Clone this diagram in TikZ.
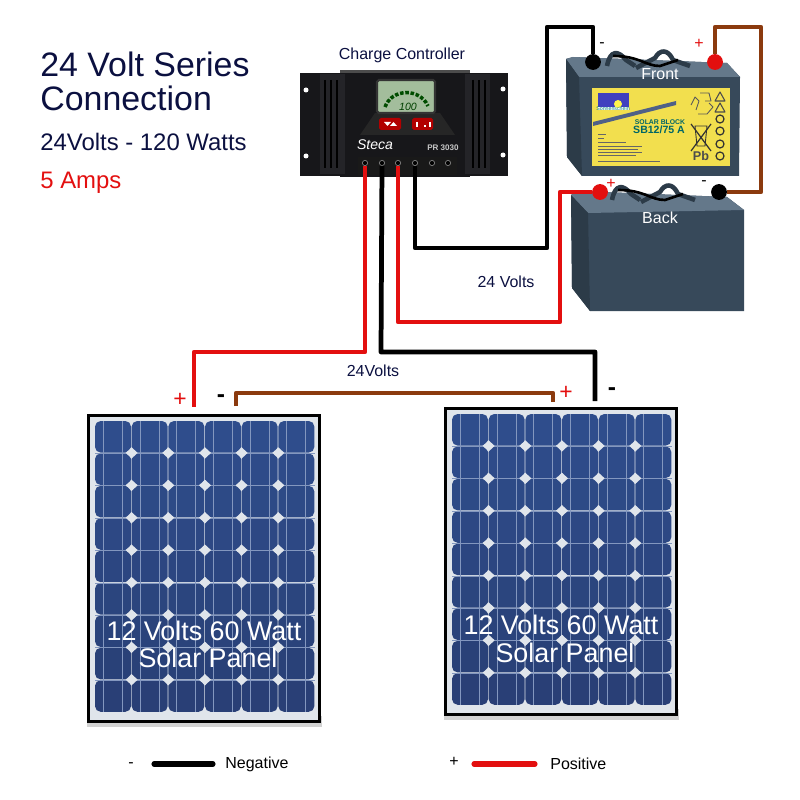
\documentclass[tikz,border=0pt]{standalone}
\usepackage{fontspec}
\setmainfont{Liberation Sans}
\definecolor{navy}{HTML}{0B1040}
\definecolor{wirered}{HTML}{E30F0F}
\definecolor{wirebrown}{HTML}{8B3A0E}
\definecolor{cellblue}{HTML}{2F4D8C}
\definecolor{celldark}{HTML}{273C70}
\definecolor{celllight}{HTML}{8397BF}
\definecolor{panelback}{HTML}{E0E5EB}
\definecolor{battop}{HTML}{64788A}
\definecolor{batface}{HTML}{37495A}
\definecolor{batside}{HTML}{2C3B48}
\definecolor{ctrlbody}{HTML}{17171A}
\definecolor{ctrlside}{HTML}{242428}
\definecolor{lcdgreen}{HTML}{A3BD9C}
\definecolor{labelyellow}{HTML}{F2DF4E}
\tikzset{
  small/.style={font=\fontsize{9.1}{11}\selectfont, inner sep=0pt},
  wire/.style={line width=2.7pt, line join=round},
  dot/.style={shape=circle, draw=none, minimum size=9pt, inner sep=0pt},
  post/.style={shape=circle, draw=gray, fill=black, minimum size=3pt, inner sep=0pt, line width=0.4pt},
  paneltext/.style={text=white, inner sep=0pt, font=\fontsize{15.3}{18}\selectfont},
  panelplus/.style={text=wirered, inner sep=0pt, font=\fontsize{13}{15}\selectfont},
  panelminus/.style={text=black, inner sep=0pt, font=\bfseries\fontsize{14}{16}\selectfont},
  titlebig/.style={anchor=west, inner sep=0pt, text=navy, font=\fontsize{19.3}{23}\selectfont},
  titlesmall/.style={anchor=west, inner sep=0pt, font=\fontsize{13.6}{16}\selectfont},
  legendline/.style={line width=2.9pt, line cap=round},
}
\begin{document}
\begin{tikzpicture}[x=0.02cm,y=-0.02cm]
    \useasboundingbox (0,0) rectangle (800,800);

    % solar panels
    \foreach \dx/\dy/\pname in {0/0/panelA, 357/-7/panelB} {
        \begin{scope}[shift={(\dx,\dy)}]
            \fill[gray!35] (87,716) rectangle (322,727);
            \node[draw=black, fill=panelback, line width=1.4pt, minimum width=4.62cm, minimum height=6.12cm, inner sep=0pt] (\pname) at (204,568.5) {};
            \foreach \c in {0,...,5} {
                \foreach \r in {0,...,8} {
                    \pgfmathtruncatemacro\mix{100-10*\r}
                    \fill[cellblue!\mix!celldark, rounded corners=3.2pt] ({95+36.67*\c},{421+32.4*\r}) rectangle ++(36,31.6);
                }
                \draw[celllight, line width=0.45pt] ({103.5+36.67*\c},421) -- ++(0,291);
                \draw[celllight, line width=0.45pt] ({122.5+36.67*\c},421) -- ++(0,291);
            }
            \foreach \r in {1,...,8}
                \draw[celllight, line width=0.45pt] (95,{421+32.4*\r}) -- (315,{421+32.4*\r});
            \foreach \c in {1,...,5}
                \foreach \r in {1,...,8}
                    \fill[panelback] ({95+36.67*\c-6},{421+32.4*\r-0.5}) -- ++(6,-5.5) -- ++(6,5.5) -- ++(-6,5.5) -- cycle;
        \end{scope}
    }
    \node[paneltext] (textA1) at (204,631) {12 Volts 60 Watt};
    \node[paneltext] (textA2) at (208,658) {Solar Panel};
    \node[paneltext] (textB1) at (561,625) {12 Volts 60 Watt};
    \node[paneltext] (textB2) at (565,653) {Solar Panel};

    % front battery
    \fill[batface] (566,59) -- (573,57) -- (727,63) -- (740,77) -- (739,176) -- (582,176) -- (567,157) -- cycle;
    \fill[battop] (566,59) -- (573,57) -- (727,63) -- (740,77) -- (579,77) -- cycle;
    \fill[batside] (566,59) -- (579,77) -- (582,176) -- (567,157) -- cycle;
    \fill[labelyellow] (592,88) rectangle (730,166);
    \fill[blue!50!gray] (598,93) rectangle (629,107);
    \fill[white] (598,107) rectangle (629,110);
    \fill[yellow!70!white] (618,104) circle (4);
    \fill[cellblue!60!gray] (593,122) -- (676,101) -- (676,105) -- (593,126) -- cycle;
    \node[text=teal, inner sep=0pt, font=\fontsize{3}{4}\selectfont] (logo) at (613,109) {Sonnenschein};
    \node[text=teal!80!black, inner sep=0pt, font=\bfseries\fontsize{3.9}{5}\selectfont] (solarblock) at (660,122) {SOLAR BLOCK};
    \node[text=teal!80!black, inner sep=0pt, font=\bfseries\fontsize{6}{7}\selectfont] (sbname) at (659,130) {SB12/75 A};
    \node[text=black!70, inner sep=0pt, font=\bfseries\fontsize{7.2}{8}\selectfont] (pb) at (701,156) {Pb};
    \foreach \ty/\tw in {134/8,138/6,142/28,146/44,149/40,152/44,155/38,161/62}
        \draw[black!60, line width=0.35pt] (598,\ty) -- ++(\tw,0);
    % recycling mark, crossed bin, warning icons
    \draw[black!65, line width=0.5pt, line join=round] (700,93) -- (709,93) -- (711,101) -- (705,101) (691,105) -- (695,97) -- (699,101) -- (696,110) (698,114) -- (707,114) -- (713,107) -- (709,103);
    \draw[black!80, line width=0.7pt] (691,124) -- (711,151) (711,124) -- (691,151);
    \draw[black!80, line width=0.5pt] (695,126) -- (707,126) -- (705,146) -- (697,146) -- cycle;
    \foreach \ty in {97,108}
        \draw[black!70, line width=0.6pt, line join=round] (720,{\ty-5}) -- (725,{\ty+4}) -- (715,{\ty+4}) -- cycle;
    \foreach \ty in {119,131,144,156}
        \draw[black!80, line width=0.7pt] (720,\ty) circle (4);

    % back battery
    \fill[batface] (571,195) -- (578,191) -- (727,197) -- (744,210) -- (744,311) -- (590,311) -- (572,288) -- cycle;
    \fill[battop] (571,195) -- (578,191) -- (727,197) -- (744,210) -- (588,213) -- cycle;
    \fill[batside] (571,195) -- (588,213) -- (590,311) -- (572,288) -- cycle;

    % handles on both batteries
    \foreach \hx/\hy in {0/0, 5/134} {
        \begin{scope}[shift={(\hx,\hy)}]
            \draw[batside, line width=2.6pt, line join=round] (607,66) .. controls (610,50) and (618,50) .. (626,60) -- (635,66);
            \draw[batside, line width=2.6pt, line join=round] (636,68) -- (655,58) .. controls (660,49) and (668,49) .. (673,60) -- (690,66);
            \draw[black, line width=1.5pt] (613,56) .. controls (640,56) and (645,66) .. (660,66) -- (678,60);
        \end{scope}
    }

    % charge controller
    \fill[ctrlbody] (300,73) rectangle (508,176);
    \fill[gray!60!black] (340,70.5) rectangle (470,73);
    \fill[ctrlbody] (340,73) rectangle (470,177);
    \fill[ctrlside] (320,74) rectangle (345,174);
    \fill[ctrlside] (465,74) rectangle (490,174);
    \foreach \bx in {325,331,337,473,479,485}
        \draw[black, line width=1.2pt] (\bx,80) -- (\bx,168);
    \foreach \sx/\sy in {306/90,503/89,306/156,503/155}
        \fill[white] (\sx,\sy) circle (2.5);
    \fill[black!70!gray] (375,113) -- (440,113) -- (455,135) -- (360,135) -- cycle;
    \fill[lcdgreen, draw=black!60!gray, line width=1.2pt, rounded corners=1pt] (377,80) rectangle (435,113);
    \draw[green!30!black, line width=2pt, dash pattern=on 2pt off 1pt] (385,107) .. controls (392,88) and (420,88) .. (428,106);
    \node[text=green!25!black, inner sep=0pt, font=\itshape\fontsize{6}{7}\selectfont] (lcdtext) at (408,107) {100};
    \fill[red!70!black, rounded corners=1pt] (379,118) rectangle (401,130);
    \fill[red!70!black, rounded corners=1pt] (412,118) rectangle (433,130);
    \fill[white] (384,122) -- (391,122) -- (387.5,126) -- cycle (390,126) -- (397,126) -- (393.5,122) -- cycle;
    \draw[white, line width=1pt] (417,122) -- (417,127) (424,126) -- (426,126) (430,122) -- (430,127);
    \node[text=white, inner sep=0pt, font=\itshape\fontsize{8}{10}\selectfont] (steca) at (375,145) {Steca};
    \node[text=gray!45, inner sep=0pt, font=\bfseries\fontsize{4.6}{6}\selectfont] (model) at (443,148) {PR 3030};
    \fill[black!80!gray] (358,157) rectangle (457,175);
    \foreach \i/\tx in {1/365,2/382,3/398,4/415,5/432,6/448}
        \node[post] (post\i) at (\tx,163) {};
    \node[small, text=navy] (ctrlname) at (402,55) {Charge Controller};

    % battery terminals
    \node[dot, fill=black] (frontneg) at (593,62) {};
    \node[dot, fill=wirered] (frontpos) at (715,62) {};
    \node[dot, fill=wirered] (backpos) at (600,192) {};
    \node[dot, fill=black] (backneg) at (719,192) {};

    % corners of the wires
    \coordinate (neg1) at (547,248);
    \coordinate (neg2) at (547,27);
    \coordinate (neg3) at (593,27);
    \coordinate (link1) at (715,27);
    \coordinate (link2) at (761,27);
    \coordinate (link3) at (761,192);
    \coordinate (pos1) at (560,322);
    \coordinate (pos2) at (560,192);
    \coordinate (panelpos1) at (365,352);
    \coordinate (panelpos2) at (194,352);
    \coordinate (panelpos3) at (194,407);
    \coordinate (panelneg1) at (381,352);
    \coordinate (panelneg2) at (595,352);
    \coordinate (panelneg3) at (595,401);
    \coordinate (series1) at (236,406);
    \coordinate (series2) at (236,393);
    \coordinate (series3) at (553,393);
    \coordinate (series4) at (553,402);

    % wires
    \draw[wire, black] (post4) |- (neg1) -- (neg2) -- (neg3) -- (frontneg);
    \draw[wire, wirebrown] (frontpos) -- (link1) -- (link2) -- (link3) -- (backneg);
    \draw[wire, wirered] (post3) |- (pos1) -- (pos2) -- (backpos);
    \draw[wire, wirered] (post1) -- (panelpos1) -- (panelpos2) -- (panelpos3);
    \draw[wire, black] (post2) -- (panelneg1) -- (panelneg2) -- (panelneg3);
    \draw[wire, wirebrown] (series1) -- (series2) -- (series3) -- (series4);

    % battery labels
    \node[small, text=white] (frontname) at (660,74) {Front};
    \node[small, text=white] (backname) at (660,218) {Back};
    \node[small, text=black] (frontminus) at (602,45) {-};
    \node[small, text=wirered] (frontplus) at (699,44) {+};
    \node[small, text=wirered] (backplus) at (611,184) {+};
    \node[small, text=black] (backminus) at (704,183) {-};
    \node[small, text=navy] (voltsbat) at (506,282) {24 Volts};
    \node[small, text=navy] (voltspanel) at (373,371) {24Volts};

    % panel signs
    \node[panelplus] (plusA) at (180,400) {+};
    \node[panelminus] (minusA) at (221,399) {-};
    \node[panelplus] (plusB) at (566,393) {+};
    \node[panelminus] (minusB) at (612,392) {-};

    % title
    \node[titlebig] (title1) at (40,64) {24 Volt Series};
    \node[titlebig] (title2) at (40,98) {Connection};
    \node[titlesmall, text=navy] (title3) at (40,142) {24Volts - 120 Watts};
    \node[titlesmall, text=wirered] (title4) at (40,182.5) {5 Amps};

    % legend
    \node[small] (legminus) at (131,765) {-};
    \coordinate (negstart) at (154,764);
    \coordinate (negend) at (213,764);
    \draw[legendline, black] (negstart) -- (negend);
    \node[small, anchor=west] (legneg) at (225,764) {Negative};
    \node[small] (legplus) at (454,762) {+};
    \coordinate (posstart) at (474,764);
    \coordinate (posend) at (535,764);
    \draw[legendline, wirered] (posstart) -- (posend);
    \node[small, anchor=west] (legpos) at (550,764) {Positive};
\end{tikzpicture}
\end{document}
